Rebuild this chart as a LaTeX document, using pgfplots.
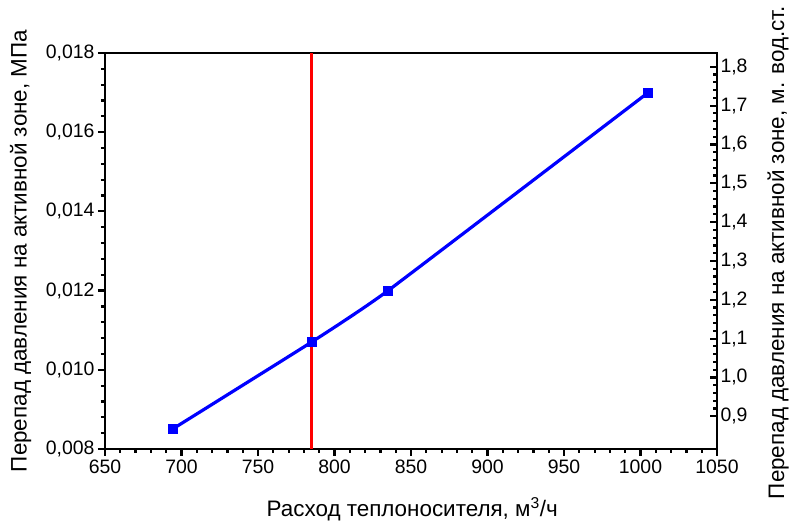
\documentclass[border=0pt]{standalone}
\usepackage{fontspec}
\setmainfont{Liberation Sans}
\usepackage{pgfplots}
\pgfplotsset{compat=1.18}

\begin{document}
\begin{tikzpicture}
\path[use as bounding box] (-105bp,-73bp) rectangle (687bp,449bp);

\pgfplotsset{
  common/.style={
    scale only axis,
    width=612bp, height=396bp,
    at={(0,0)}, anchor=south west,
    xmin=650, xmax=1050,
    axis line style={line width=2.8bp},
    every tick/.style={black, line width=2.2bp},
    major tick length=7bp,
    minor tick length=4bp,
    /pgf/number format/assume math mode=true,
    tick label style={font=\fontsize{19.5}{22}\selectfont},
    label style={font=\fontsize{22.5}{26}\selectfont},
  }
}

\begin{axis}[
  common,
  ymin=0.008, ymax=0.018,
  xtick={650,700,...,1050},
  ytick={0.008,0.010,...,0.0181},
  minor x tick num=4,
  minor y tick num=4,
  xtick pos=bottom, ytick pos=left,
  tick align=outside,
  scaled y ticks=false,
  yticklabel style={/pgf/number format/.cd, fixed, fixed zerofill, precision=3, use comma},
  xticklabel style={/pgf/number format/.cd, fixed, 1000 sep={}},
  xlabel={Расход теплоносителя, м\textsuperscript{3}/ч},
  ylabel={Перепад давления на активной зоне, МПа},
  xlabel style={at={(axis description cs:0.502,-0.152)}, anchor=center},
  ylabel style={at={(axis description cs:-0.138,0.5)}, anchor=center},
  clip=false,
]
\addplot[color=red, line width=2.6bp] coordinates {(785,0.008) (785,0.018)};
\addplot[color=blue, line width=3.2bp, smooth, tension=0.25, mark=square*,
  mark size=4.5bp, mark options={solid, line width=0.5bp}] coordinates {
  (694,0.0085)
  (785,0.0107)
  (835,0.0120)
  (1005,0.0170)
};
\end{axis}

\begin{axis}[
  common,
  ymin=0.81577, ymax=1.83548,
  axis x line=none,
  axis y line*=right,
  ytick={0.9,1.0,...,1.81},
  minor y tick num=4,
  ytick pos=right,
  tick align=inside,
  yticklabel style={/pgf/number format/.cd, fixed, fixed zerofill, precision=1, use comma},
  ylabel={Перепад давления на активной зоне, м. вод.ст.},
  ylabel style={at={(axis description cs:1.1,0.496)}, anchor=center},
]
\end{axis}
\end{tikzpicture}
\end{document}
